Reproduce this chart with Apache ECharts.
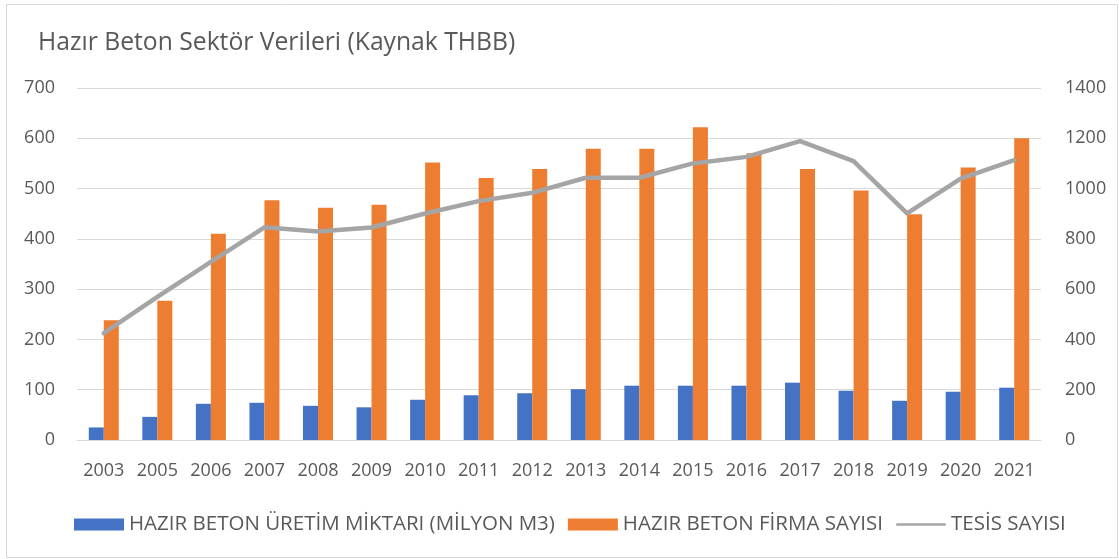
<!DOCTYPE html>
<html>
<head>
<meta charset="utf-8">
<script src="https://cdn.jsdelivr.net/npm/echarts@6/dist/echarts.min.js"></script>
<style>
html,body{margin:0;padding:0;background:#fff;}
#c{width:1119px;height:559px;}
</style>
</head>
<body>
<div id="c"></div>
<script>
const years = ['2003','2005','2006','2007','2008','2009','2010','2011','2012','2013','2014','2015','2016','2017','2018','2019','2020','2021'];
const uretim = [25, 46, 72, 74, 68, 65, 80, 89, 93, 101, 108, 108, 108, 114, 98, 78, 96, 104];
const firma = [238, 277, 410, 477, 462, 468, 552, 521, 539, 579, 579, 622, 570, 539, 496, 449, 542, 600];
const tesis = [425, 569, 708, 846, 829, 845, 901, 950, 983, 1043, 1043, 1100, 1126, 1189, 1109, 901, 1040, 1113];
const seriesNames = ['HAZIR BETON ÜRETİM MİKTARI (MİLYON M3)', 'HAZIR BETON FİRMA SAYISI', 'TESİS SAYISI'];

const font = '"Open Sans", Lato, sans-serif';
const chart = echarts.init(document.getElementById('c'), null, {renderer: 'canvas'});
chart.setOption({
  backgroundColor: '#fff',
  animation: false,
  textStyle: {fontFamily: font},
  title: {
    text: 'Hazır Beton Sektör Verileri (Kaynak THBB)',
    left: 33, top: 25,
    textStyle: {fontFamily: font, fontSize: 24.7, fontWeight: 'normal', color: '#595959'}
  },
  graphic: [{
    type: 'rect', left: 4, top: 2, z: -1,
    shape: {width: 1111, height: 553},
    style: {fill: 'none', stroke: '#D9D9D9', lineWidth: 1}
  }],
  grid: {left: 77, right: 78, top: 88, bottom: 119, containLabel: false},
  legend: {
    top: 509, left: 69,
    itemWidth: 50, itemHeight: 12, itemGap: 13,
    textStyle: {fontFamily: font, fontSize: 20.5, color: '#595959', padding: [0,0,0,0]},
    data: [
      {name: seriesNames[0], icon: 'rect'},
      {name: seriesNames[1], icon: 'rect'},
      {name: seriesNames[2], icon: 'path://M0,0 L0,0 M2,7.6 L98,7.6 A2.4,2.4 0 0 1 98,12.4 L2,12.4 A2.4,2.4 0 0 1 2,7.6 Z M0,20 L0,20'}
    ]
  },
  xAxis: {
    type: 'category', data: years,
    axisLine: {lineStyle: {color: '#D9D9D9', width: 1}},
    axisTick: {show: false},
    axisLabel: {color: '#595959', fontSize: 18, margin: 22, interval: 0, fontFamily: font}
  },
  yAxis: [{
    type: 'value', min: 0, max: 700, interval: 100,
    axisLine: {show: false}, axisTick: {show: false},
    splitLine: {lineStyle: {color: '#D9D9D9', width: 1}},
    axisLabel: {color: '#595959', fontSize: 18, margin: 22, fontFamily: font, formatter: v => String(v)}
  }, {
    type: 'value', min: 0, max: 1400, interval: 200,
    axisLine: {show: false}, axisTick: {show: false},
    splitLine: {show: false},
    axisLabel: {color: '#595959', fontSize: 18, margin: 24, fontFamily: font, formatter: v => String(v)}
  }],
  series: [{
    name: seriesNames[0], type: 'bar', data: uretim, yAxisIndex: 0,
    itemStyle: {color: '#4472C4'}, barWidth: 15, barGap: '0%'
  }, {
    name: seriesNames[1], type: 'bar', data: firma, yAxisIndex: 0,
    itemStyle: {color: '#ED7D31'}, barWidth: 15, barGap: '0%'
  }, {
    name: seriesNames[2], type: 'line', data: tesis, yAxisIndex: 1,
    symbol: 'none', lineStyle: {color: '#A5A5A5', width: 4.5, cap: 'round', join: 'round'},
    itemStyle: {color: '#A5A5A5'}, z: 5
  }]
});
</script>
</body>
</html>
